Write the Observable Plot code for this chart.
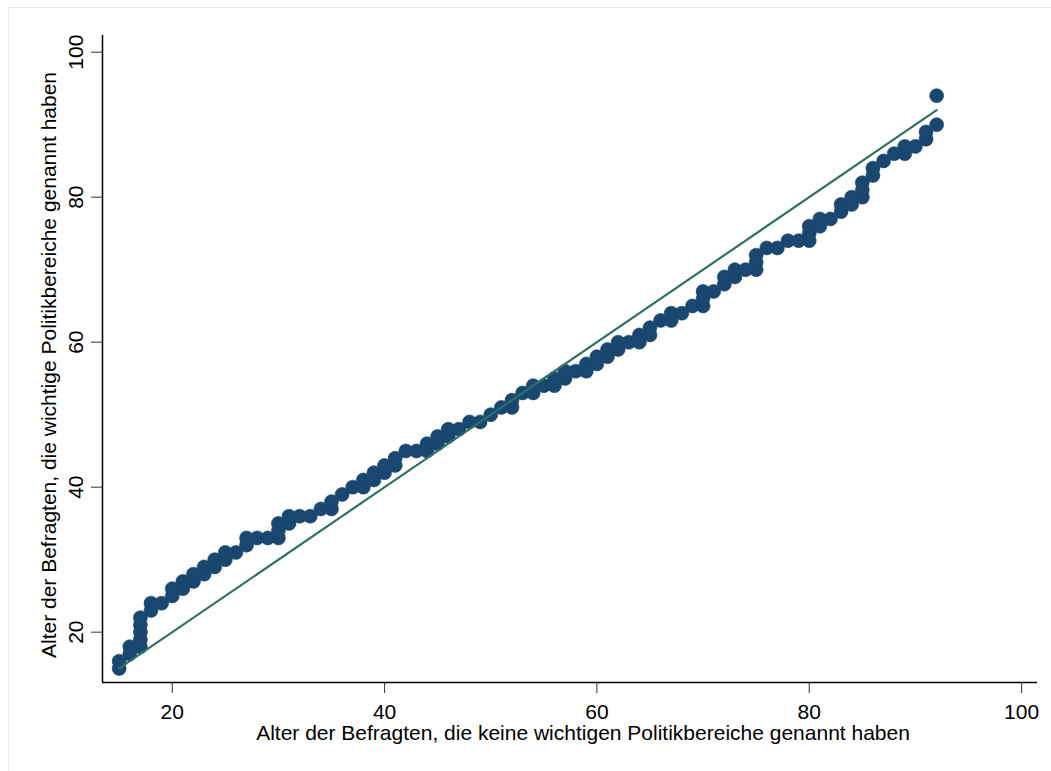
<!DOCTYPE html>
<html>
<head>
<meta charset="utf-8">
<script src="https://cdn.jsdelivr.net/npm/d3@7"></script>
<script src="https://cdn.jsdelivr.net/npm/@observablehq/plot@0.6"></script>
<style>
  html, body { margin: 0; padding: 0; background: #fff; width: 1051px; height: 771px; overflow: hidden; }
  #frame { position: absolute; left: 8px; top: 7px; width: 1060px; height: 780px; border: 1px solid #e3eaee; box-sizing: border-box; }
  #chart { position: absolute; left: 0; top: 0; }
</style>
</head>
<body>
<div id="frame"></div>
<div id="chart"></div>
<script>
// Quantiles: age of respondents without (x) and with (y) named policy areas
const qx = [15,15,16,16,17,17,17,17,17,18,18,19,20,20,21,21,22,22,23,23,24,24,25,25,26,27,27,28,29,30,30,30,31,31,32,33,34,35,35,36,37,38,38,39,39,40,40,41,41,42,43,44,44,45,45,46,46,47,48,49,50,51,52,52,53,54,54,55,56,56,57,57,58,59,59,60,60,61,61,62,62,63,64,64,65,65,66,67,67,68,69,70,70,70,71,72,72,73,73,74,75,75,75,76,77,78,79,80,80,80,81,81,82,83,83,84,84,85,85,85,86,86,87,88,89,89,90,91,91,92,92];
const qy = [15,16,17,18,18,19,20,21,22,23,24,24,25,26,26,27,27,28,28,29,29,30,30,31,31,32,33,33,33,33,34,35,35,36,36,36,37,37,38,39,40,40,41,41,42,42,43,43,44,45,45,45,46,46,47,47,48,48,49,49,50,51,51,52,53,53,54,54,54,55,55,56,56,56,57,57,58,58,59,59,60,60,60,61,61,62,63,63,64,64,65,65,66,67,67,68,69,69,70,70,70,71,72,73,73,74,74,74,75,76,76,77,77,78,79,79,80,80,81,82,83,84,85,86,86,87,87,88,89,90,94];
const xTicks = [20, 40, 60, 80, 100];
const yTicks = [20, 40, 60, 80, 100];
const xDomain = [13.43, 101.5];
const yDomain = [13.06, 102.3];
const xTitle = "Alter der Befragten, die keine wichtigen Politikbereiche genannt haben";
const yTitle = "Alter der Befragten, die wichtige Politikbereiche genannt haben";

const points = qx.map((x, i) => ({x, y: qy[i]}));
const refLine = [d3.min(qx), d3.max(qx)];

const chart = Plot.plot({
  width: 1051,
  height: 771,
  marginLeft: 102,
  marginRight: 14,
  marginTop: 35,
  marginBottom: 89,
  style: { fontFamily: "'Liberation Sans', Arial, sans-serif", fontSize: "20px", background: "transparent", color: "#000", overflow: "visible" },
  x: { domain: xDomain, ticks: xTicks },
  y: { domain: yDomain, ticks: yTicks },
  marks: [
    Plot.axisX({ ticks: xTicks, tickSize: 11, tickPadding: 11, label: null, stroke: "#333", fontSize: 21 }),
    Plot.axisY({ ticks: yTicks, tickSize: 11, tickPadding: 9, tickRotate: -90, label: null, stroke: "#333", fontSize: 21 }),
    Plot.ruleX([xDomain[0]], { stroke: "#000", strokeWidth: 1.5 }),
    Plot.ruleY([yDomain[0]], { stroke: "#000", strokeWidth: 1.5 }),
    Plot.dot(points, { x: "x", y: "y", r: 7, fill: "#1a476f", stroke: "#1a476f", strokeWidth: 0.6 }),
    Plot.line(refLine, { x: d => d, y: d => d, stroke: "#2e7264", strokeWidth: 2.2 }),
    Plot.text([xTitle], { frameAnchor: "bottom", textAnchor: "middle", lineAnchor: "middle", dy: 51, dx: 13, text: d => d, fontSize: 21, fill: "#000" }),
    Plot.text([yTitle], { frameAnchor: "left", textAnchor: "middle", lineAnchor: "middle", dx: -53, dy: 6, rotate: -90, text: d => d, fontSize: 21, fill: "#000" })
  ]
});
document.getElementById("chart").appendChild(chart);
</script>
</body>
</html>
